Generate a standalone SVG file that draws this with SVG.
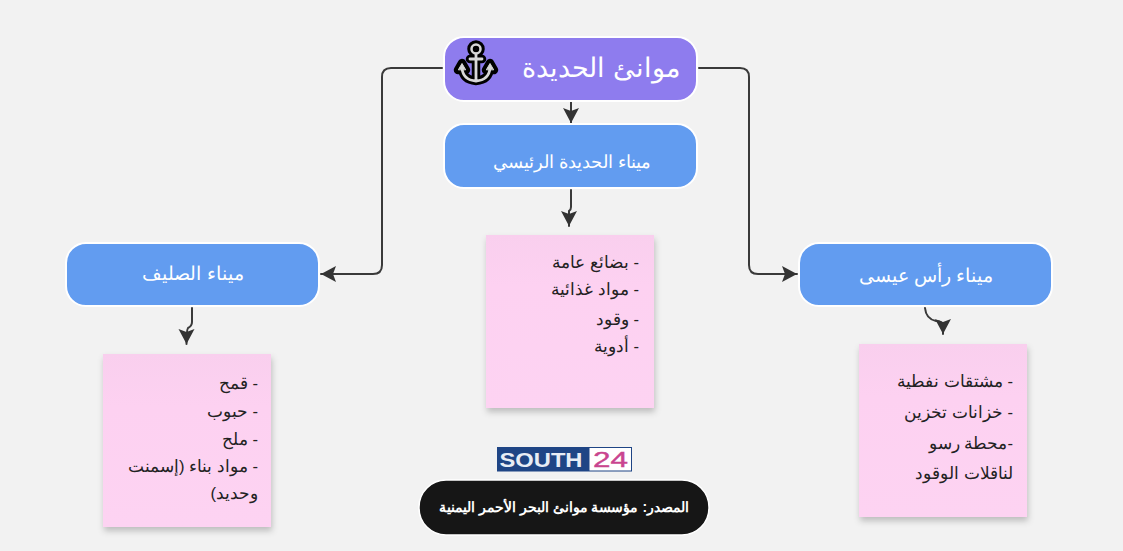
<svg xmlns="http://www.w3.org/2000/svg" width="1123" height="551" viewBox="0 0 1123 551">
<style>
.ar{font-family:"Liberation Sans",Arial,sans-serif}
.node{stroke:#fff;stroke-width:2}
.blue{fill:#629cf0}
.nt{fill:#fff;font-size:18.500px;text-anchor:middle;direction:rtl}
.note{fill:url(#pink);filter:url(#sh)}
.nl{fill:#222;font-size:16.600px;text-anchor:start;direction:rtl}
.conn{fill:none;stroke:#3a3a3a;stroke-width:2;stroke-linecap:round;stroke-linejoin:round}
</style>
<defs>
<linearGradient id="pink" x1="0" y1="0" x2="0" y2="1"><stop offset="0" stop-color="#f9cfee"/><stop offset="0.3" stop-color="#fdd1f1"/><stop offset="1" stop-color="#fdd3f2"/></linearGradient>
<filter id="sh" x="-10%" y="-5%" width="120%" height="112%"><feDropShadow dx="1" dy="4" stdDeviation="3" flood-color="#000" flood-opacity="0.22"/></filter>
<marker id="ah" markerUnits="userSpaceOnUse" markerWidth="18" markerHeight="18" refX="15" refY="9" orient="auto"><path d="M0 1L15 9L0 17L3 9Z" fill="#333"/></marker>
</defs>
<rect width="1123" height="551" fill="#f2f2f2"/>
<g id="connectors">
<path class="conn" d="M442 68H391Q382 68 382 77V265Q382 274 373 274H321" marker-end="url(#ah)"/>
<path class="conn" d="M699 68H740Q749 68 749 77V265Q749 274 758 274H797" marker-end="url(#ah)"/>
<path class="conn" d="M571 102V123" marker-end="url(#ah)"/>
<path class="conn" d="M571 190V207Q571 210 569 211V226" marker-end="url(#ah)"/>
<path class="conn" d="M192 308V322Q192 326 188 328Q186.500 330 186.500 344" marker-end="url(#ah)"/>
<path class="conn" d="M925 308Q926 319 936 321Q942 321 943 325V334" marker-end="url(#ah)"/>
</g>
<g id="node-main">
<rect class="node" x="444" y="37" width="253" height="64" rx="20" fill="#8e7cee"/>
<text class="ar nt" x="601" y="77" style="font-size:27px">موانئ الحديدة</text>
</g>
<g id="icon-anchor" fill="none" stroke-linejoin="round" stroke-linecap="round">
<g stroke="#000" stroke-width="8.500">
<circle cx="476" cy="49" r="4.500"/>
<path d="M476 54V81M470 59H482M462 68Q463 80 476 81Q489 80 490 68M458 70L462 63L466 70ZM486 70L490 63L494 70Z"/>
</g>
<circle cx="476" cy="49" r="4.500" stroke="#d8d8d8" stroke-width="2.500"/>
<path d="M476 54V81M470 59H482M462 68Q463 80 476 81Q489 80 490 68" stroke="#d8d8d8" stroke-width="2.800"/>
<path d="M458.500 69.500L462 63.500L465.500 69.500ZM486.500 69.500L490 63.500L493.500 69.500Z" fill="#d8d8d8" stroke="#d8d8d8" stroke-width="1"/>
</g>
<g id="node-hodeidah">
<rect class="node blue" x="444" y="124" width="253" height="64" rx="20"/>
<text class="ar nt" x="572" y="168" style="font-size:17.800px">ميناء الحديدة الرئيسي</text>
</g>
<g id="node-salif">
<rect class="node blue" x="66" y="243" width="253" height="63" rx="20"/>
<text class="ar nt" x="193" y="280" style="font-size:19px">ميناء الصليف</text>
</g>
<g id="node-ras-issa">
<rect class="node blue" x="799" y="243" width="253" height="63" rx="20"/>
<text class="ar nt" x="926" y="282">ميناء رأس عيسى</text>
</g>
<g id="note-hodeidah">
<rect class="note" x="486" y="235" width="168" height="173"/>
<text class="ar nl" x="639" y="268">- بضائع عامة</text>
<text class="ar nl" x="639" y="295">- مواد غذائية</text>
<text class="ar nl" x="639" y="325">- وقود</text>
<text class="ar nl" x="639" y="352">- أدوية</text>
</g>
<g id="note-salif">
<rect class="note" x="103" y="354" width="168" height="173"/>
<text class="ar nl" x="258" y="389">- قمح</text>
<text class="ar nl" x="258" y="417">- حبوب</text>
<text class="ar nl" x="258" y="445">- ملح</text>
<text class="ar nl" x="258" y="472">- مواد بناء (إسمنت</text>
<text class="ar nl" x="258" y="499">وحديد)</text>
</g>
<g id="note-ras-issa">
<rect class="note" x="859" y="344" width="168" height="173"/>
<text class="ar nl" x="1013" y="387">- مشتقات نفطية</text>
<text class="ar nl" x="1013" y="418">- خزانات تخزين</text>
<text class="ar nl" x="1013" y="449">-محطة رسو</text>
<text class="ar nl" x="1013" y="479">لناقلات الوقود</text>
</g>
<g id="logo">
<rect x="497" y="447" width="135" height="24.500" fill="#1f4585"/>
<rect x="589.500" y="448" width="41.500" height="22.500" fill="#fff"/>
<text x="541" y="466.500" font-family="Liberation Sans,Arial,sans-serif" font-size="20" font-weight="bold" fill="#e8edf5" text-anchor="middle" textLength="83" lengthAdjust="spacingAndGlyphs">SOUTH</text>
<text x="610.500" y="467" font-family="Liberation Sans,Arial,sans-serif" font-size="22" fill="#c9458f" stroke="#c9458f" stroke-width="0.400" text-anchor="middle" textLength="35" lengthAdjust="spacingAndGlyphs">24</text>
</g>
<g id="source">
<rect x="419" y="480" width="290" height="55" rx="27" fill="#161616" stroke="#fff" stroke-width="1.500"/>
<text class="ar" x="564" y="512" fill="#fff" font-size="14" font-weight="bold" text-anchor="middle" direction="rtl">المصدر: مؤسسة موانئ البحر الأحمر اليمنية</text>
</g>
</svg>
